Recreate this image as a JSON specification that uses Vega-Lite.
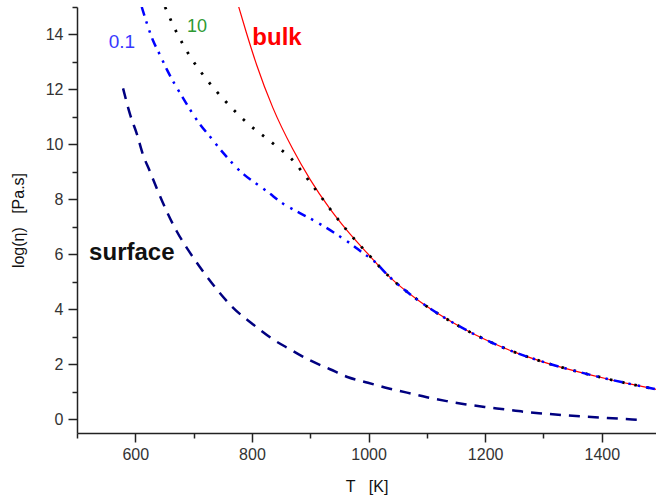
{
  "$schema": "https://vega.github.io/schema/vega-lite/v6.json",
  "width": 579,
  "height": 426,
  "autosize": {"type": "none"},
  "padding": {"left": 77, "top": 7, "right": 0, "bottom": 67},
  "background": "white",
  "config": {
    "view": {"stroke": null},
    "font": "Liberation Sans",
    "axis": {
      "grid": false,
      "domainColor": "#222",
      "domainWidth": 1.5,
      "tickColor": "#222",
      "tickWidth": 1.5,
      "labelFont": "Liberation Sans",
      "labelFontSize": 16,
      "labelColor": "#333",
      "titleFont": "Liberation Sans",
      "titleFontSize": 16,
      "titleFontWeight": "normal",
      "titleColor": "#111"
    }
  },
  "datasets": {
    "curves": [
      {"s": "bulk", "T": 776, "v": 15.1},
      {"s": "bulk", "T": 790, "v": 14.1},
      {"s": "bulk", "T": 808, "v": 12.9},
      {"s": "bulk", "T": 836, "v": 11.33},
      {"s": "bulk", "T": 870, "v": 9.83},
      {"s": "bulk", "T": 900, "v": 8.72},
      {"s": "bulk", "T": 933, "v": 7.68},
      {"s": "bulk", "T": 963, "v": 6.87},
      {"s": "bulk", "T": 997, "v": 6.06},
      {"s": "bulk", "T": 1036, "v": 5.18},
      {"s": "bulk", "T": 1085, "v": 4.33},
      {"s": "bulk", "T": 1130, "v": 3.7},
      {"s": "bulk", "T": 1168, "v": 3.24},
      {"s": "bulk", "T": 1200, "v": 2.9},
      {"s": "bulk", "T": 1247, "v": 2.47},
      {"s": "bulk", "T": 1306, "v": 2.045},
      {"s": "bulk", "T": 1360, "v": 1.726},
      {"s": "bulk", "T": 1410, "v": 1.466},
      {"s": "bulk", "T": 1450, "v": 1.278},
      {"s": "bulk", "T": 1493, "v": 1.089},

      {"s": "10", "T": 651, "v": 15.0},
      {"s": "10", "T": 671, "v": 14.07},
      {"s": "10", "T": 694, "v": 13.2},
      {"s": "10", "T": 721, "v": 12.4},
      {"s": "10", "T": 755, "v": 11.56},
      {"s": "10", "T": 793, "v": 10.76},
      {"s": "10", "T": 834, "v": 10.07},
      {"s": "10", "T": 872, "v": 9.38},
      {"s": "10", "T": 888, "v": 8.95},
      {"s": "10", "T": 903, "v": 8.53},
      {"s": "10", "T": 920, "v": 8.05},
      {"s": "10", "T": 933, "v": 7.68},
      {"s": "10", "T": 963, "v": 6.87},
      {"s": "10", "T": 997, "v": 6.06},
      {"s": "10", "T": 1036, "v": 5.18},
      {"s": "10", "T": 1085, "v": 4.33},
      {"s": "10", "T": 1130, "v": 3.7},
      {"s": "10", "T": 1168, "v": 3.24},
      {"s": "10", "T": 1200, "v": 2.9},
      {"s": "10", "T": 1247, "v": 2.47},
      {"s": "10", "T": 1306, "v": 2.045},
      {"s": "10", "T": 1360, "v": 1.726},
      {"s": "10", "T": 1410, "v": 1.466},
      {"s": "10", "T": 1450, "v": 1.278},
      {"s": "10", "T": 1493, "v": 1.089},

      {"s": "0.1", "T": 611, "v": 15.0},
      {"s": "0.1", "T": 630, "v": 13.8},
      {"s": "0.1", "T": 642, "v": 13.27},
      {"s": "0.1", "T": 654, "v": 12.73},
      {"s": "0.1", "T": 680, "v": 11.75},
      {"s": "0.1", "T": 711, "v": 10.73},
      {"s": "0.1", "T": 728, "v": 10.29},
      {"s": "0.1", "T": 750, "v": 9.71},
      {"s": "0.1", "T": 786, "v": 8.91},
      {"s": "0.1", "T": 809, "v": 8.55},
      {"s": "0.1", "T": 826, "v": 8.29},
      {"s": "0.1", "T": 853, "v": 7.85},
      {"s": "0.1", "T": 877, "v": 7.56},
      {"s": "0.1", "T": 903, "v": 7.27},
      {"s": "0.1", "T": 925, "v": 7.0},
      {"s": "0.1", "T": 951, "v": 6.65},
      {"s": "0.1", "T": 973, "v": 6.33},
      {"s": "0.1", "T": 990, "v": 6.05},
      {"s": "0.1", "T": 1007, "v": 5.8},
      {"s": "0.1", "T": 1036, "v": 5.18},
      {"s": "0.1", "T": 1085, "v": 4.33},
      {"s": "0.1", "T": 1130, "v": 3.7},
      {"s": "0.1", "T": 1168, "v": 3.24},
      {"s": "0.1", "T": 1200, "v": 2.9},
      {"s": "0.1", "T": 1247, "v": 2.47},
      {"s": "0.1", "T": 1306, "v": 2.045},
      {"s": "0.1", "T": 1360, "v": 1.726},
      {"s": "0.1", "T": 1410, "v": 1.466},
      {"s": "0.1", "T": 1450, "v": 1.278},
      {"s": "0.1", "T": 1493, "v": 1.089},

      {"s": "surface", "T": 579, "v": 12.04},
      {"s": "surface", "T": 591, "v": 11.09},
      {"s": "surface", "T": 603, "v": 10.36},
      {"s": "surface", "T": 613, "v": 9.64},
      {"s": "surface", "T": 625, "v": 9.02},
      {"s": "surface", "T": 639, "v": 8.29},
      {"s": "surface", "T": 654, "v": 7.56},
      {"s": "surface", "T": 671, "v": 6.84},
      {"s": "surface", "T": 690, "v": 6.18},
      {"s": "surface", "T": 711, "v": 5.53},
      {"s": "surface", "T": 737, "v": 4.8},
      {"s": "surface", "T": 767, "v": 4.07},
      {"s": "surface", "T": 802, "v": 3.45},
      {"s": "surface", "T": 836, "v": 2.91},
      {"s": "surface", "T": 865, "v": 2.55},
      {"s": "surface", "T": 899, "v": 2.15},
      {"s": "surface", "T": 934, "v": 1.82},
      {"s": "surface", "T": 965, "v": 1.53},
      {"s": "surface", "T": 999, "v": 1.33},
      {"s": "surface", "T": 1033, "v": 1.13},
      {"s": "surface", "T": 1066, "v": 0.97},
      {"s": "surface", "T": 1100, "v": 0.8},
      {"s": "surface", "T": 1134, "v": 0.66},
      {"s": "surface", "T": 1165, "v": 0.55},
      {"s": "surface", "T": 1199, "v": 0.45},
      {"s": "surface", "T": 1234, "v": 0.36},
      {"s": "surface", "T": 1268, "v": 0.27},
      {"s": "surface", "T": 1299, "v": 0.21},
      {"s": "surface", "T": 1333, "v": 0.15},
      {"s": "surface", "T": 1367, "v": 0.1},
      {"s": "surface", "T": 1400, "v": 0.06},
      {"s": "surface", "T": 1431, "v": 0.02},
      {"s": "surface", "T": 1465, "v": -0.02}
    ],
    "labels": [
      {"label": "0.1", "T": 577, "v": 13.73},
      {"label": "10", "T": 706, "v": 14.27},
      {"label": "bulk", "T": 843, "v": 13.87},
      {"label": "surface", "T": 594, "v": 6.05}
    ]
  },
  "encoding": {
    "x": {
      "field": "T",
      "type": "quantitative",
      "scale": {"domain": [500, 1493], "nice": false, "zero": false},
      "axis": {
        "title": "T\u00a0\u00a0\u00a0[K]",
        "values": [500, 600, 700, 800, 900, 1000, 1100, 1200, 1300, 1400],
        "format": "d",
        "labelExpr": "datum.value % 200 === 0 ? datum.label : ''",
        "tickSize": {"condition": {"test": "datum.value % 200 === 0", "value": 9}, "value": 5},
        "labelPadding": 4,
        "titlePadding": 16
      }
    },
    "y": {
      "field": "v",
      "type": "quantitative",
      "scale": {"domain": [-0.5, 15], "nice": false, "zero": false},
      "axis": {
        "title": "log(η)\u00a0\u00a0\u00a0[Pa.s]",
        "values": [0, 1, 2, 3, 4, 5, 6, 7, 8, 9, 10, 11, 12, 13, 14, 15],
        "labelExpr": "datum.value % 2 === 0 ? datum.label : ''",
        "tickSize": {"condition": {"test": "datum.value % 2 === 0", "value": 9}, "value": 5},
        "labelPadding": 5,
        "titlePadding": 19
      }
    }
  },
  "layer": [
    {
      "data": {"name": "curves"},
      "transform": [{"filter": "datum.s === 'surface'"}],
      "mark": {"type": "line", "color": "#000080", "strokeWidth": 2.5, "strokeDash": [11, 8], "interpolate": "monotone", "clip": true}
    },
    {
      "data": {"name": "curves"},
      "transform": [{"filter": "datum.s === 'bulk'"}],
      "mark": {"type": "line", "color": "#ff0000", "strokeWidth": 1.2, "interpolate": "monotone", "clip": true}
    },
    {
      "data": {"name": "curves"},
      "transform": [{"filter": "datum.s === '10'"}],
      "mark": {"type": "line", "color": "#000000", "strokeWidth": 2.8, "strokeDash": [2.5, 10], "interpolate": "monotone", "clip": true}
    },
    {
      "data": {"name": "curves"},
      "transform": [{"filter": "datum.s === '0.1'"}],
      "mark": {"type": "line", "color": "#0000ff", "strokeWidth": 2.5, "strokeDash": [9, 6, 2.5, 7, 2.5, 6], "interpolate": "monotone", "clip": true}
    },
    {
      "data": {"name": "labels"},
      "transform": [{"filter": "datum.label === '0.1'"}],
      "mark": {"type": "text", "fontSize": 19, "font": "Liberation Sans", "align": "center", "baseline": "middle", "color": "#3838ff"},
      "encoding": {"text": {"field": "label"}}
    },
    {
      "data": {"name": "labels"},
      "transform": [{"filter": "datum.label === '10'"}],
      "mark": {"type": "text", "fontSize": 18, "font": "Liberation Sans", "align": "center", "baseline": "middle", "color": "#2e9a32"},
      "encoding": {"text": {"field": "label"}}
    },
    {
      "data": {"name": "labels"},
      "transform": [{"filter": "datum.label === 'bulk'"}],
      "mark": {"type": "text", "fontSize": 24, "fontWeight": "bold", "font": "Liberation Sans", "align": "center", "baseline": "middle", "color": "#ff0000"},
      "encoding": {"text": {"field": "label"}}
    },
    {
      "data": {"name": "labels"},
      "transform": [{"filter": "datum.label === 'surface'"}],
      "mark": {"type": "text", "fontSize": 24, "fontWeight": "bold", "font": "Liberation Sans", "align": "center", "baseline": "middle", "color": "#111111"},
      "encoding": {"text": {"field": "label"}}
    }
  ]
}
